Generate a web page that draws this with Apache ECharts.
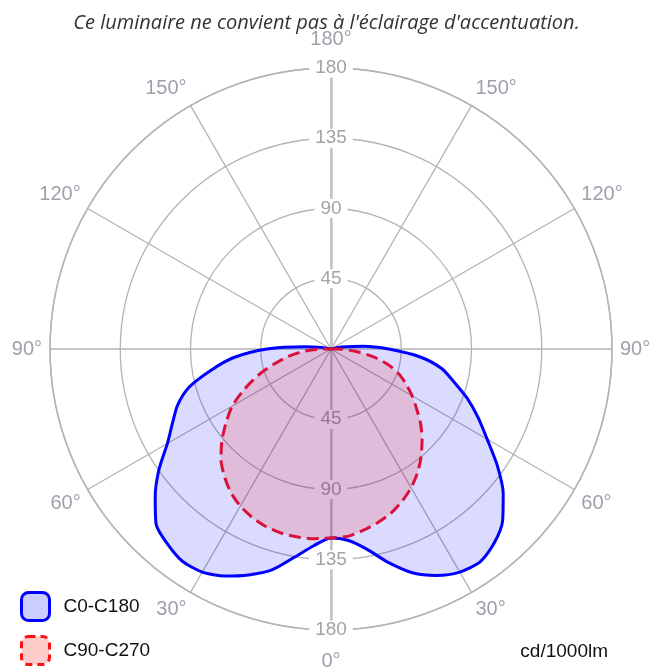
<!DOCTYPE html>
<html>
<head>
<meta charset="utf-8">
<script src="https://cdn.jsdelivr.net/npm/echarts@6/dist/echarts.min.js"></script>
<style>
  html, body { margin: 0; padding: 0; background: #fff; }
  #chart { width: 653px; height: 668px; }
</style>
</head>
<body>
<div id="chart"></div>
<script>
// angle from nadir (0 = straight down), same steps on both halves
var gammas = [0, 5, 10, 15, 20, 25, 30, 35, 40, 45, 50, 55, 60, 65, 70, 75, 80, 85, 90, 95, 100, 105];

// C0-C180 (cd/1000lm), left half = C180, right half = C0
var c0Left  = [121, 126.5, 135.5, 146.5, 154, 160.5, 165, 166, 163, 158.5, 147, 134.5, 121, 112, 104.5, 94, 78, 62.5, 41, 17, 6, 0];
var c0Right = [121, 123, 130, 141.5, 152.5, 160, 165, 166.5, 162.5, 155.5, 144, 130, 115.5, 104, 93, 81.5, 72, 57, 37, 21, 7, 0];

// C90-C270
var c90Left  = [121, 122, 122.3, 122.2, 121.2, 119.1, 116.2, 112, 106.3, 99.7, 91.2, 82, 73, 61.4, 50, 38.2, 28, 18, 6, 0, 0, 0];
var c90Right = [121, 120.5, 118, 115.2, 112, 107.6, 102.6, 96.7, 89.8, 82.5, 75, 67, 60, 53, 46, 37.5, 26.5, 15, 4, 0, 0, 0];

var radiusTicks = [0, 45, 90, 135, 180];

// builds [r, angle] pairs: right half is negative angle on the axis
function curve(leftVals, rightVals) {
    var pts = [];
    for (var i = gammas.length - 1; i >= 0; i--) {
        pts.push([rightVals[i], -gammas[i]]);
    }
    for (var j = 1; j < gammas.length; j++) {
        pts.push([leftVals[j], gammas[j]]);
    }
    return pts;
}

var gridColor = '#b4b4b4';
var font = 'Liberation Sans, Arial, sans-serif';

var radiusLabel = {
    margin: 0,
    align: 'center',
    verticalAlign: 'middle',
    color: '#a3a3a3',
    fontFamily: font,
    fontSize: 19,
    backgroundColor: '#fff',
    padding: [0, 6],
    showMinLabel: false,
    formatter: function (v) { return v === 0 ? '' : String(v); }
};

var myChart = echarts.init(document.getElementById('chart'));
var option = {
    backgroundColor: '#fff',
    animation: false,
    title: [
        {
            text: "Ce luminaire ne convient pas à l'éclairage d'accentuation.",
            left: 'center',
            top: 8,
            textStyle: {
                fontFamily: 'Open Sans, Lato, sans-serif',
                fontStyle: 'italic',
                fontWeight: 'normal',
                fontSize: 20,
                color: '#333'
            }
        },
        {
            text: 'cd/1000lm',
            right: 40,
            top: 637,
            textStyle: {
                fontFamily: font,
                fontWeight: 'normal',
                fontSize: 19,
                color: '#111'
            }
        }
    ],
    legend: {
        orient: 'vertical',
        left: 20,
        top: 591,
        padding: 0,
        itemWidth: 28,
        itemHeight: 28,
        itemGap: 13,
        textStyle: {
            fontFamily: font,
            fontSize: 19,
            color: '#111',
            padding: [0, 0, 0, 9]
        },
        data: [
            {
                name: 'C0-C180',
                icon: 'roundRect',
                itemStyle: { color: 'rgba(0,0,255,0.2)', borderColor: '#0000ff', borderWidth: 3 }
            },
            {
                name: 'C90-C270',
                icon: 'roundRect',
                itemStyle: { color: 'rgba(255,0,0,0.2)', borderColor: '#ff1010', borderWidth: 3, borderType: [7, 5] }
            }
        ]
    },
    polar: [
        { center: [331, 349], radius: 281 },
        { center: [331, 349], radius: 281 }
    ],
    angleAxis: [
        {
            polarIndex: 0,
            type: 'value',
            min: -180,
            max: 180,
            interval: 30,
            startAngle: 90,
            clockwise: true,
            axisLine: { lineStyle: { color: gridColor, width: 1.5 } },
            axisTick: { show: false },
            splitLine: { lineStyle: { color: gridColor, width: 1.3 } },
            axisLabel: {
                margin: 8,
                color: '#a0a0ac',
                fontFamily: font,
                fontSize: 20,
                formatter: function (v) {
                    var a = Math.abs(v);
                    if (a === 180) return '{top|180°}';
                    if (a === 0) return '{bot|0°}';
                    return a + '°';
                },
                rich: {
                    top: { lineHeight: 42, fontSize: 20, color: '#a0a0ac', fontFamily: font },
                    bot: { lineHeight: 46, fontSize: 20, color: '#a0a0ac', fontFamily: font }
                }
            }
        },
        {
            polarIndex: 1,
            type: 'value',
            min: -180,
            max: 180,
            interval: 30,
            startAngle: -90,
            show: false
        }
    ],
    radiusAxis: [
        {
            polarIndex: 0,
            type: 'value',
            min: radiusTicks[0],
            max: radiusTicks[radiusTicks.length - 1],
            interval: 45,
            z: 1,
            axisLine: { show: true, lineStyle: { color: '#c4c4c4', width: 2.5 } },
            axisTick: { show: false },
            splitLine: { show: true, lineStyle: { color: gridColor, width: 1.3 } },
            axisLabel: radiusLabel
        },
        {
            polarIndex: 1,
            type: 'value',
            min: radiusTicks[0],
            max: radiusTicks[radiusTicks.length - 1],
            interval: 45,
            z: 1,
            axisLine: { show: true, lineStyle: { color: '#c4c4c4', width: 2.5 } },
            axisTick: { show: false },
            splitLine: { show: false },
            axisLabel: radiusLabel
        }
    ],
    series: [
        {
            name: 'C0-C180',
            type: 'line',
            coordinateSystem: 'polar',
            polarIndex: 0,
            symbol: 'none',
            smooth: 0.25,
            data: curve(c0Left, c0Right),
            lineStyle: { color: '#0000ff', width: 3 },
            itemStyle: { color: '#0000ff' },
            areaStyle: { color: 'rgba(0,0,255,0.2)' },
            z: 2
        },
        {
            name: 'C90-C270',
            type: 'line',
            coordinateSystem: 'polar',
            polarIndex: 0,
            symbol: 'none',
            smooth: 0.25,
            data: curve(c90Left, c90Right),
            lineStyle: { color: '#d8123a', width: 3, type: [12, 6] },
            itemStyle: { color: '#d8123a' },
            areaStyle: { color: 'rgba(255,0,0,0.2)' },
            z: 3
        }
    ]
};
myChart.setOption(option);
window.addEventListener('resize', function () {
    myChart.resize();
});
</script>
</body>
</html>
